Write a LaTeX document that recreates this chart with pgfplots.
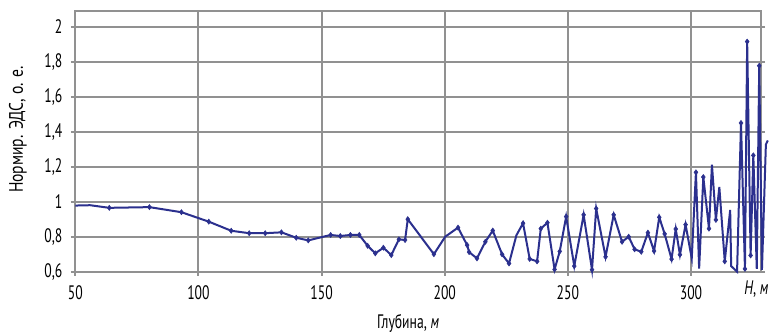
\documentclass[border=0pt]{standalone}
\usepackage{fontspec}
\setmainfont[FakeStretch=0.7]{PT Sans}
\usepackage{pgfplots}
\pgfplotsset{compat=1.18}
\definecolor{ln}{RGB}{43,48,142}
\definecolor{gr}{RGB}{145,145,145}
\begin{document}
\fontsize{19.5}{22}\selectfont
\begin{tikzpicture}[x=1pt,y=1pt]
\begin{axis}[
  at={(0,0)}, anchor=south west,
  scale only axis, width=685.4pt, height=260.7pt,
  xmin=50, xmax=328.3, ymin=0.6, ymax=2.09,
  clip=false,
  axis line style={gr, line width=2pt},
  xmajorgrids, ymajorgrids, grid style={gr, line width=2pt},
  xtick={50,100,150,200,250,300}, ytick={0.6,0.8,1,1.2,1.4,1.6,1.8,2},
  xtick pos=bottom, ytick pos=both,
  tick align=outside, major tick length=4.3pt,
  tick style={gr, line width=2pt},
  /pgf/number format/assume math mode=true,
  /pgf/number format/use comma,
  yticklabel style={/pgf/number format/fixed, /pgf/number format/precision=1, xshift=-2pt},
  xticklabel style={yshift=-3pt},
]
\addplot[ln, line width=2pt, mark=diamond*, mark size=2.6pt,
  mark options={solid, fill=ln, line width=0.5pt},
  mark indices={3,4,5,6,7,8,9,10,11,12,13,14,15,16,17,18,19,20,21,22,23,24,26,27,28,29,30,31,32,33,35,36,37,38,39,40,41,42,43,44,45,46,47,48,49,50,51,52,53,54,55,56,57,58,59,60,62,64,65,67,69,73,74,75,76,77,79}]
coordinates {
(50,0.978)(56,0.98)(63.8,0.965)(80.1,0.969)(93.1,0.94)(104.2,0.886)(113.3,0.834)(120.6,0.82)
(127.1,0.82)(133.7,0.825)(139.7,0.794)(144.6,0.779)(153.7,0.81)(157.6,0.804)(161.7,0.81)(165.3,0.81)
(168.7,0.748)(171.8,0.705)(175.1,0.737)(178.3,0.695)(181.4,0.785)(183.9,0.781)(185,0.9)(195.6,0.70)
(200.2,0.80)(205.4,0.852)(209.1,0.752)(209.9,0.712)(213.1,0.676)(216.5,0.771)(219.5,0.835)(223.3,0.699)
(226.1,0.647)(229.1,0.808)(231.8,0.877)(234.5,0.673)(237.5,0.659)(239,0.846)(241.7,0.88)(244.6,0.613)
(246.7,0.716)(249.3,0.915)(252.6,0.632)(256.4,0.925)(259.8,0.611)(261.5,0.961)(265.3,0.685)(268.6,0.925)
(272.0,0.771)(274.7,0.80)(277.1,0.728)(279.8,0.714)(282.5,0.823)(285.0,0.718)(287.1,0.911)(289.3,0.816)
(292.1,0.672)(293.8,0.844)(295.5,0.697)(297.8,0.869)(300.3,0.676)(302.0,1.168)(303.3,0.618)(305.0,1.141)
(307.3,0.846)(308.5,1.212)(310.1,0.896)(311.5,1.084)(313.7,0.659)(315.9,0.953)(316.3,0.632)(318.7,0.60)
(320.3,1.45)(321.9,0.616)(322.8,1.915)(324.2,0.693)(325.3,1.265)(326.7,0.616)(327.7,1.777)(328.8,0.61)
(330.4,1.327)(331.2,1.35)
};
\end{axis}
\node[rotate=90, anchor=center] at (-57.3pt,142pt) {\addfontfeature{FakeStretch=0.8}Нормир. ЭДС, о. е.};
\node[anchor=base, inner sep=0pt] at (332.7pt,-57pt) {Глубина, \textit{м}};
\node[anchor=base, inner sep=0pt] at (681pt,-23pt) {\textit{H}, \textit{м}};
\pgfresetboundingbox
\path[use as bounding box] (-75.3pt,-62.3pt) rectangle (705.7pt,271.7pt);
\end{tikzpicture}
\end{document}
